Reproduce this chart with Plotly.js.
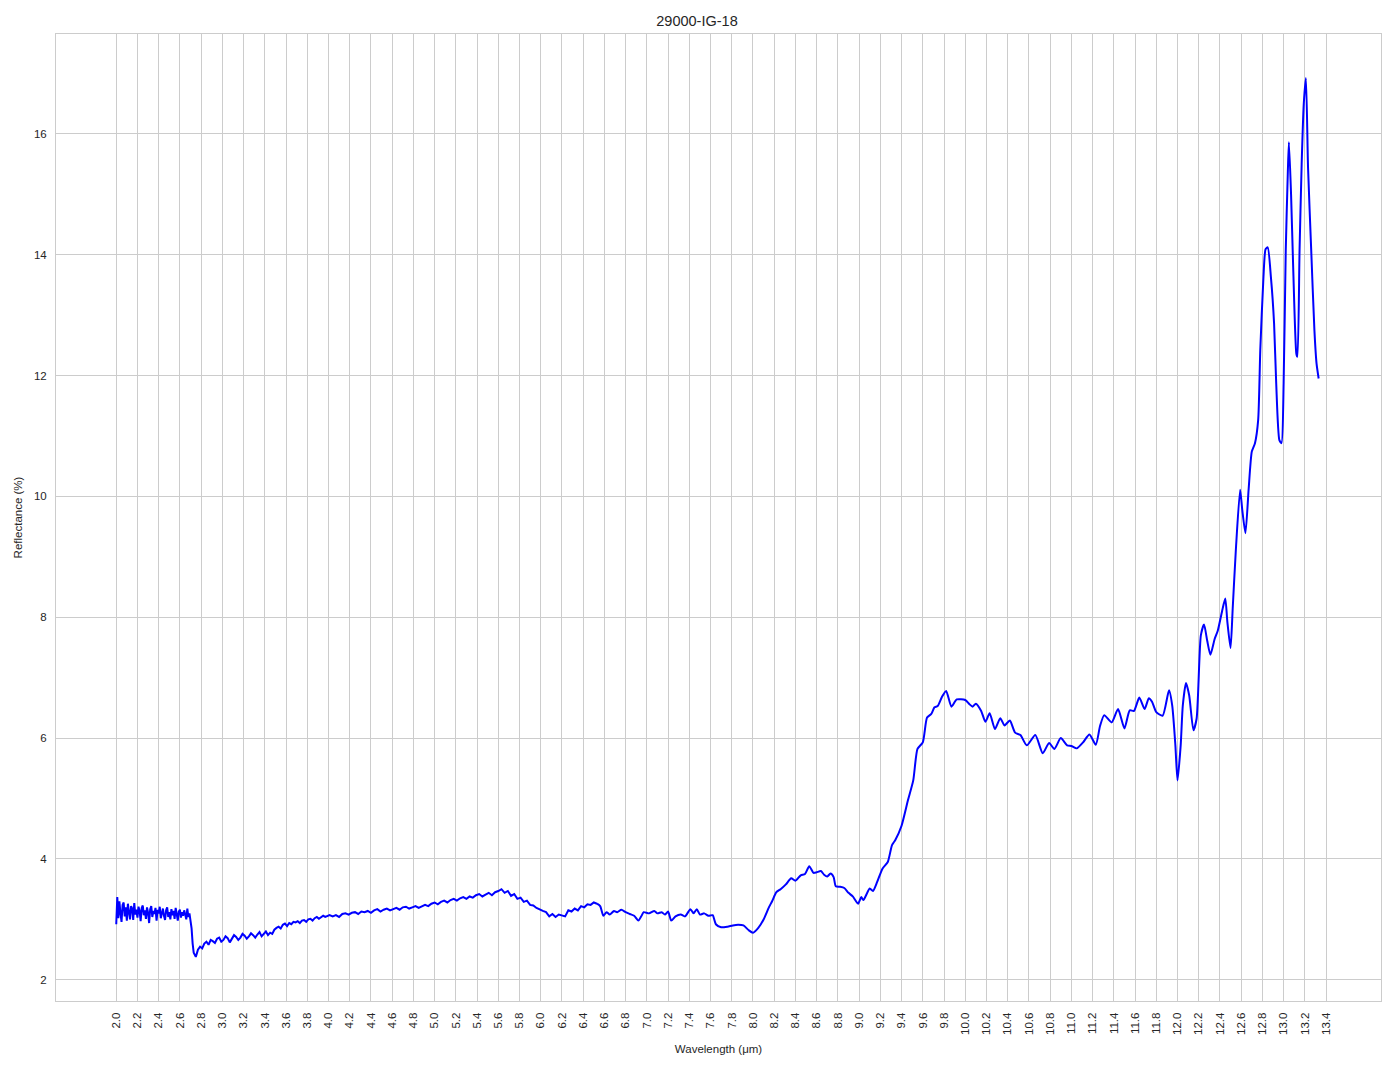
<!DOCTYPE html>
<html>
<head>
<meta charset="utf-8">
<script src="https://cdn.plot.ly/plotly-3.0.1.min.js"></script>
<style>html,body{margin:0;padding:0;background:#fff;}</style>
</head>
<body>
<div id="chart" style="width:1394px;height:1069px;"></div>
<script>
// Noisy part A: 2.00 .. 2.72, sampled every 0.01 µm
const segAStart = 2.00, segAStep = 0.01;
const segAValues = [
  2.92, 3.37, 3.02, 3.30, 3.10, 2.96, 3.24, 3.28, 3.05, 3.20,
  2.98, 3.26, 3.12, 3.00, 3.22, 3.18, 2.99, 3.27, 3.08, 3.16,
  3.03, 3.21, 3.14, 2.97, 3.19, 3.23, 3.07, 3.15, 3.01, 3.20,
  3.11, 2.94, 3.17, 3.22, 3.04, 3.14, 3.09, 3.19, 2.98, 3.16,
  3.10, 3.21, 3.02, 3.13, 3.18, 3.06, 2.99, 3.15, 3.20, 3.04,
  3.12, 3.00, 3.17, 3.07, 3.14, 3.01, 3.19, 3.09, 2.98, 3.13,
  3.16, 3.03, 3.12, 3.06, 3.15, 3.08, 3.00, 3.18, 3.04, 3.10,
  3.00, 2.85, 2.60
];
// Noisy part B: 2.73 .. 4.01, every 0.02 µm
const segBStart = 2.73, segBStep = 0.02;
const segBValues = [
  2.45, 2.38, 2.50, 2.55, 2.52, 2.60, 2.63, 2.58, 2.66, 2.64,
  2.61, 2.68, 2.70, 2.63, 2.66, 2.72, 2.69, 2.62, 2.68, 2.74,
  2.71, 2.66, 2.70, 2.76, 2.73, 2.68, 2.72, 2.77, 2.74, 2.70,
  2.75, 2.79, 2.72, 2.76, 2.80, 2.74, 2.78, 2.76, 2.83, 2.86,
  2.88, 2.85, 2.91, 2.93, 2.89, 2.94, 2.92, 2.96, 2.95, 2.97,
  2.94, 2.98, 2.99, 2.96, 3.00, 3.01, 2.98, 3.02, 3.04, 3.01,
  3.03, 3.06, 3.04, 3.05, 3.07
];
// Part C: 4.04 .. 6.53, every 0.03 µm
const segCStart = 4.04, segCStep = 0.03;
const segCValues = [
  3.05, 3.07, 3.04, 3.09, 3.10, 3.08, 3.11, 3.12, 3.09, 3.13,
  3.12, 3.14, 3.11, 3.15, 3.17, 3.13, 3.16, 3.18, 3.15, 3.17,
  3.19, 3.16, 3.20, 3.21, 3.18, 3.20, 3.22, 3.19, 3.21, 3.24,
  3.22, 3.26, 3.28, 3.25, 3.29, 3.31, 3.28, 3.32, 3.34, 3.31,
  3.35, 3.37, 3.34, 3.38, 3.36, 3.40, 3.42, 3.38, 3.41, 3.44,
  3.40, 3.45, 3.47, 3.50, 3.44, 3.47, 3.39, 3.42, 3.34, 3.36,
  3.29, 3.31, 3.24, 3.23, 3.19, 3.16, 3.14, 3.12, 3.05, 3.09,
  3.04, 3.08, 3.06, 3.05, 3.15, 3.13, 3.18, 3.15, 3.22, 3.20,
  3.25, 3.24, 3.28, 3.26
];
// Smooth part D: explicit wavelengths and reflectance
const segDWavelength = [
  6.53, 6.56, 6.59, 6.62, 6.65, 6.69, 6.72, 6.76, 6.80, 6.84, 6.88, 6.92, 6.95, 6.97,
  7.02, 7.07, 7.10, 7.14, 7.17, 7.20, 7.23, 7.27, 7.32, 7.36, 7.41, 7.44, 7.47, 7.50,
  7.54, 7.58, 7.62, 7.65, 7.70, 7.76, 7.81, 7.86, 7.91, 7.96, 8.00, 8.05, 8.10, 8.15,
  8.18, 8.22, 8.26, 8.31, 8.36, 8.40, 8.45, 8.49, 8.53, 8.57, 8.60, 8.64, 8.67, 8.70,
  8.73, 8.76, 8.78, 8.82, 8.86, 8.90, 8.94, 8.99, 9.02, 9.04, 9.10, 9.13, 9.17, 9.22,
  9.27, 9.31, 9.34, 9.40, 9.46, 9.51, 9.55, 9.60, 9.64, 9.68, 9.71, 9.74, 9.78, 9.82,
  9.87, 9.92, 10.00, 10.04, 10.07, 10.10, 10.15, 10.19, 10.23, 10.28, 10.33, 10.37,
  10.42, 10.47, 10.52, 10.58, 10.66, 10.73, 10.79, 10.84, 10.90, 10.96, 11.00, 11.05,
  11.11, 11.17, 11.23, 11.27, 11.31, 11.38, 11.44, 11.50, 11.55, 11.59, 11.64, 11.69,
  11.73, 11.76, 11.80, 11.86, 11.92, 11.95, 11.98, 12.00, 12.03, 12.05, 12.08, 12.11,
  12.15, 12.18, 12.22, 12.25, 12.28, 12.31, 12.35, 12.38, 12.42, 12.45, 12.47, 12.50,
  12.52, 12.55, 12.59, 12.61, 12.64, 12.67, 12.70, 12.73, 12.76, 12.78, 12.81, 12.83,
  12.85, 12.88, 12.91, 12.93, 12.96, 12.98, 13.00, 13.02, 13.04, 13.05, 13.07, 13.09,
  13.12, 13.13, 13.15, 13.17, 13.19, 13.21, 13.23, 13.26, 13.29, 13.31, 13.33
];
const segDReflectance = [
  3.26, 3.22, 3.06, 3.12, 3.08, 3.14, 3.12, 3.16, 3.12, 3.09, 3.06, 2.98, 3.06, 3.12,
  3.10, 3.14, 3.10, 3.12, 3.08, 3.13, 2.98, 3.05, 3.08, 3.05, 3.17, 3.10, 3.17, 3.08,
  3.10, 3.06, 3.07, 2.92, 2.87, 2.88, 2.90, 2.91, 2.90, 2.82, 2.78, 2.86, 3.00, 3.20,
  3.30, 3.45, 3.50, 3.58, 3.68, 3.64, 3.73, 3.75, 3.88, 3.77, 3.78, 3.80, 3.74, 3.71,
  3.76, 3.70, 3.55, 3.54, 3.52, 3.44, 3.38, 3.26, 3.37, 3.32, 3.51, 3.47, 3.62, 3.84,
  3.95, 4.23, 4.31, 4.55, 4.97, 5.30, 5.82, 5.93, 6.34, 6.40, 6.51, 6.53, 6.68, 6.78,
  6.52, 6.64, 6.63, 6.56, 6.52, 6.57, 6.45, 6.27, 6.41, 6.15, 6.33, 6.21,
  6.29, 6.09, 6.05, 5.88, 6.05, 5.75, 5.92, 5.82, 6.00, 5.88, 5.87, 5.83,
  5.93, 6.06, 5.89, 6.20, 6.38, 6.26, 6.48, 6.16, 6.46, 6.45, 6.67, 6.48,
  6.66, 6.60, 6.43, 6.37, 6.79, 6.54, 5.88, 5.30, 5.88, 6.54, 6.91, 6.71,
  6.13, 6.32, 7.70, 7.88, 7.61, 7.38, 7.64, 7.78, 8.10, 8.31, 7.92, 7.49,
  8.14, 9.12, 10.11, 9.78, 9.39, 10.11, 10.74, 10.88, 11.26, 12.42, 13.63, 14.09,
  14.12, 13.63, 12.86, 11.87, 10.93, 10.88, 11.87, 14.07, 15.39, 15.86, 15.00, 13.79,
  12.36, 12.31, 14.07, 15.50, 16.50, 16.92, 15.44, 14.07, 12.75, 12.20, 11.95
];
const xTickValues = [];
for (let k = 0; k <= 57; k++) xTickValues.push(+(2.0 + 0.2 * k).toFixed(1));
const yTickValues = [2, 4, 6, 8, 10, 12, 14, 16];

function expand(start, step, vals) {
  return vals.map((v, i) => +(start + i * step).toFixed(3));
}
const noisyX = [].concat(
  expand(segAStart, segAStep, segAValues),
  expand(segBStart, segBStep, segBValues),
  expand(segCStart, segCStep, segCValues)
);
const noisyY = [].concat(segAValues, segBValues, segCValues);

const traces = [
  {x: noisyX, y: noisyY, type: 'scatter', mode: 'lines', line: {color: '#0000ff', width: 2}, hoverinfo: 'x+y'},
  {x: segDWavelength, y: segDReflectance, type: 'scatter', mode: 'lines',
   line: {color: '#0000ff', width: 2, shape: 'spline', smoothing: 0.6}, hoverinfo: 'x+y'}
];

const textColor = '#262626';
const gridColor = '#cccccc';
const layout = {
  width: 1394, height: 1069,
  margin: {l: 56, r: 13, t: 34, b: 68, pad: 0},
  paper_bgcolor: '#ffffff', plot_bgcolor: '#ffffff',
  showlegend: false,
  font: {family: 'Liberation Sans, Arial, sans-serif', size: 11.5, color: textColor},
  title: {text: '29000-IG-18', x: 0.5, xanchor: 'center', y: 1 - 21 / 1069, yanchor: 'middle',
          font: {size: 14.5, color: textColor}},
  xaxis: {
    range: [1.4325, 13.9175],
    tickmode: 'array', tickvals: xTickValues, ticktext: xTickValues.map(v => v.toFixed(1)),
    tickangle: -90, ticks: 'outside', ticklen: 6, tickcolor: 'rgba(0,0,0,0)',
    showgrid: true, gridcolor: gridColor, gridwidth: 1, zeroline: false,
    showline: true, linecolor: gridColor, linewidth: 1, mirror: true,
    tickfont: {size: 11.5, color: textColor},
    title: {text: 'Wavelength (μm)', font: {size: 11.5, color: textColor}, standoff: 10}
  },
  yaxis: {
    range: [1.65, 17.65],
    tickmode: 'array', tickvals: yTickValues,
    ticks: 'outside', ticklen: 6, tickcolor: 'rgba(0,0,0,0)',
    showgrid: true, gridcolor: gridColor, gridwidth: 1, zeroline: false,
    showline: true, linecolor: gridColor, linewidth: 1, mirror: true,
    tickfont: {size: 11.5, color: textColor},
    title: {text: 'Reflectance (%)', font: {size: 11.5, color: textColor}, standoff: 8}
  }
};
Plotly.newPlot('chart', traces, layout, {displayModeBar: false, staticPlot: true});
</script>
</body>
</html>
